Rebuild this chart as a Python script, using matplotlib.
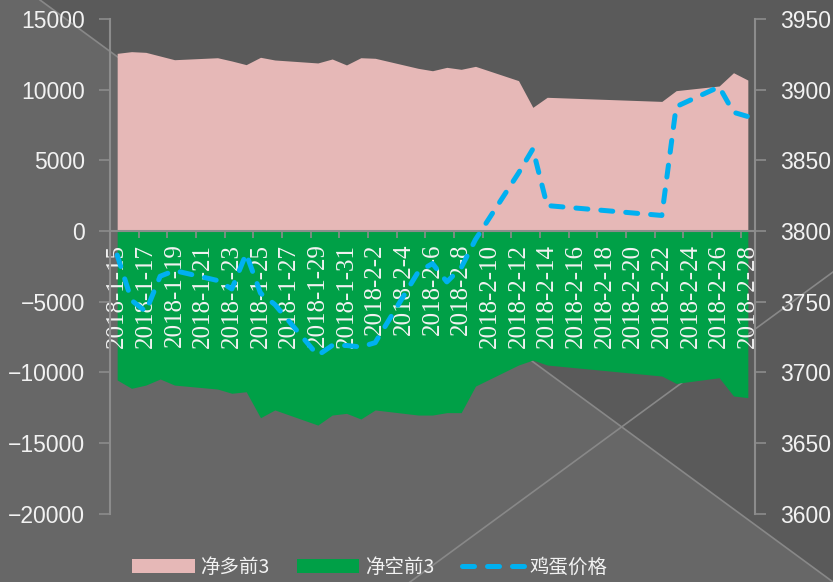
import datetime as dt
import matplotlib
matplotlib.use('Agg')
import matplotlib.pyplot as plt
from matplotlib.patches import Patch, Polygon
from matplotlib.lines import Line2D

# trading days and values
dates = ['2018-1-15', '2018-1-16', '2018-1-17', '2018-1-18', '2018-1-19',
         '2018-1-22', '2018-1-23', '2018-1-24', '2018-1-25', '2018-1-26',
         '2018-1-29', '2018-1-30', '2018-1-31', '2018-2-1', '2018-2-2',
         '2018-2-5', '2018-2-6', '2018-2-7', '2018-2-8', '2018-2-9',
         '2018-2-12', '2018-2-13', '2018-2-14', '2018-2-22', '2018-2-23',
         '2018-2-26', '2018-2-27', '2018-2-28']
net_long = [12570, 12690, 12640, 12380, 12120, 12260, 12030, 11770, 12290, 12100,
            11890, 12170, 11750, 12260, 12220, 11510, 11340, 11580, 11440, 11650,
            10640, 8750, 9460, 9170, 9930, 10260, 11200, 10680]
net_short = [-10540, -11130, -10900, -10470, -10900, -11180, -11480, -11370, -13210, -12660,
             -13730, -13020, -12900, -13300, -12660, -13020, -13020, -12850, -12850, -10970,
             -9480, -9130, -9480, -10260, -10780, -10380, -11670, -11790]
egg_price = [3783, 3751, 3743, 3768, 3772, 3765, 3759, 3784, 3756, 3748,
             3712, 3719, 3719, 3718, 3721, 3771, 3777, 3764, 3774, 3794,
             3841, 3858, 3818, 3811, 3888, 3902, 3884, 3881]
series_names = ['净多前3', '净空前3', '鸡蛋价格']

start = dt.date(2018, 1, 15)
n_days = 45


def day_index(s):
    y, m, d = map(int, s.split('-'))
    return (dt.date(y, m, d) - start).days


x = [day_index(s) for s in dates]
all_days = [start + dt.timedelta(days=i) for i in range(n_days)]
tick_labels = [f'{d.year}-{d.month}-{d.day}' for d in all_days[::2]]

PINK = '#e6b8b7'
GREEN = '#00a047'
BLUE = '#00b0f0'
AXIS = '#8c8c8c'
TEXT = '#f2f2f2'
DASH = (0, (2.4, 2.6))

plt.rcParams['font.family'] = ['Noto Sans CJK SC', 'DejaVu Sans']

W, H = 833, 582
fig = plt.figure(figsize=(W / 100, H / 100), dpi=100)
fig.patch.set_facecolor('#676767')

# background decoration
fig.add_artist(Polygon([(40 / W, 1), (1, 1), (1, 0)], closed=True, transform=fig.transFigure,
                       facecolor='#5a5a5a', edgecolor='none', zorder=-2))
fig.add_artist(Line2D([40 / W, 1], [1, 0], transform=fig.transFigure,
                      color='#888888', lw=1.2, zorder=-1))
fig.add_artist(Line2D([410 / W, 1], [0, 1 - 272 / H], transform=fig.transFigure,
                      color='#888888', lw=1.2, zorder=-1))

ax = fig.add_axes([110 / W, 1 - 513.7 / H, 645 / W, (513.7 - 19) / H])
ax.set_facecolor('none')
ax.fill_between(x, net_long, 0, color=PINK, lw=0)
ax.fill_between(x, net_short, 0, color=GREEN, lw=0)
ax.set_xlim(-0.5, n_days - 0.5)
ax.set_ylim(-20000, 15000)
ax.set_yticks(range(-20000, 15001, 5000))

ax.set_xticks(range(0, n_days, 2))
ax.set_xticklabels(tick_labels)
ax.set_xticks([i + 1.5 for i in range(0, n_days - 2, 2)], minor=True)
ax.tick_params(axis='x', which='major', length=0, pad=9, labelsize=18,
               labelcolor=TEXT, labelrotation=90)
ax.tick_params(axis='x', which='minor', length=5, width=1.2, color=AXIS, direction='out')
ax.tick_params(axis='y', length=8, width=1.2, color=AXIS, pad=10, labelsize=16.5, labelcolor=TEXT)

for s in ['top', 'right']:
    ax.spines[s].set_visible(False)
ax.spines['bottom'].set_position(('data', 0))
ax.spines['bottom'].set_color(AXIS)
ax.spines['bottom'].set_linewidth(1.5)
ax.spines['left'].set_color(AXIS)
ax.spines['left'].set_linewidth(1.5)

ax2 = ax.twinx()
ax2.plot(x, egg_price, color=BLUE, lw=3.6, ls=DASH, dash_capstyle='round', solid_capstyle='round')
ax2.set_ylim(3600, 3950)
ax2.set_yticks(range(3600, 3951, 50))
ax2.tick_params(axis='y', length=8, width=1.2, color=AXIS, pad=10, labelsize=16.5, labelcolor=TEXT)
for s in ['top', 'left', 'bottom']:
    ax2.spines[s].set_visible(False)
ax2.spines['right'].set_color(AXIS)
ax2.spines['right'].set_linewidth(1.5)

# fonts for tick labels
for lbl in ax.get_xticklabels():
    lbl.set_fontfamily('Liberation Serif')
    lbl.set_va('top')
    lbl.set_ha('center')
for lbl in ax.get_yticklabels() + ax2.get_yticklabels():
    lbl.set_fontfamily('Liberation Sans')

handles = [Patch(facecolor=PINK, edgecolor='none'),
           Patch(facecolor=GREEN, edgecolor='none'),
           Line2D([], [], color=BLUE, lw=3.6, ls=DASH, dash_capstyle='round')]
fig.legend(handles, series_names, loc='center', bbox_to_anchor=(370 / W, 1 - 567 / H),
           ncol=3, frameon=False, fontsize=14, labelcolor=TEXT,
           handlelength=3.2, handletextpad=0.3, columnspacing=1.4)

fig.savefig('out.png', dpi=100, facecolor=fig.get_facecolor())
